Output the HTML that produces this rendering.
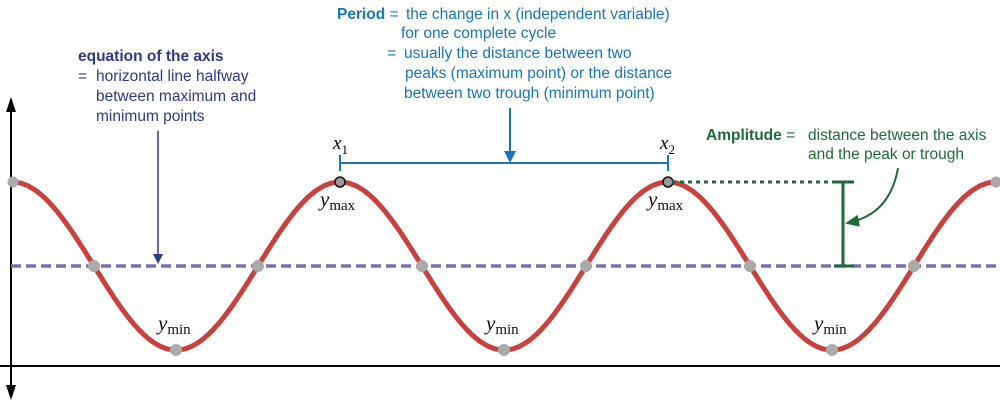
<!DOCTYPE html>
<html><head><meta charset="utf-8"><style>
html,body{margin:0;padding:0;background:#fff;width:1000px;height:401px;overflow:hidden}
svg{display:block}
.s{font-family:"Liberation Sans",sans-serif;font-size:15.5px}
.m{font-family:"Liberation Serif",serif}
</style></head><body>
<svg id="g" width="1000" height="401" viewBox="0 0 1000 401">
<defs>
<marker id="ab" markerWidth="10" markerHeight="10" refX="8" refY="5" orient="auto" markerUnits="userSpaceOnUse"><path d="M0,0 L10,5 L0,10 Z" fill="#2e3a8c"/></marker>
<marker id="al" markerWidth="12" markerHeight="12" refX="10" refY="6" orient="auto" markerUnits="userSpaceOnUse"><path d="M0,0 L12,6 L0,12 Z" fill="#1a75bc"/></marker>
<marker id="ag" markerWidth="14" markerHeight="12" refX="12" refY="6" orient="auto" markerUnits="userSpaceOnUse"><path d="M0,0 L14,6 L0,12 Z" fill="#1e6b3a"/></marker>
</defs>
<line x1="11" y1="104" x2="11" y2="392" stroke="#000" stroke-width="2"/>
<path d="M11,97 L6,112 L16,112 Z M11,400 L6,385 L16,385 Z" fill="#000"/>
<line x1="0" y1="366" x2="1000" y2="366" stroke="#000" stroke-width="2"/>
<line x1="11" y1="266" x2="1000" y2="266" stroke="#7b6fb0" stroke-width="3.5" stroke-dasharray="10,5"/>
<path id="w" fill="none" stroke="#c9413f" stroke-width="5"/>
<g id="dots" fill="#aaa"></g>
<circle cx="340" cy="182" r="5" fill="#999" stroke="#111" stroke-width="1.5"/>
<circle cx="668" cy="182" r="5" fill="#999" stroke="#111" stroke-width="1.5"/>
<line x1="340" y1="163" x2="668" y2="163" stroke="#1a75bc" stroke-width="2"/>
<line x1="340" y1="155" x2="340" y2="171" stroke="#1a75bc" stroke-width="2"/>
<line x1="668" y1="155" x2="668" y2="171" stroke="#1a75bc" stroke-width="2"/>
<line x1="510" y1="108" x2="510" y2="161" stroke="#1a75bc" stroke-width="2" marker-end="url(#al)"/>
<text class="m" font-style="italic" font-size="19" x="333" y="149">x<tspan font-style="normal" font-size="13" dy="5">1</tspan></text>
<text class="m" font-style="italic" font-size="19" x="660" y="149">x<tspan font-style="normal" font-size="13" dy="5">2</tspan></text>
<g class="s" fill="#1a75bc">
<text x="337" y="19"><tspan font-weight="bold">Period</tspan> =</text>
<text x="406" y="19">the change in x (independent variable)</text>
<text x="401" y="38">for one complete cycle</text>
<text x="387" y="58">=</text>
<text x="404" y="58">usually the distance between two</text>
<text x="405" y="78">peaks (maximum point) or the distance</text>
<text x="404" y="98">between two trough (minimum point)</text>
</g>
<g class="s" fill="#2e3a8c">
<text x="78" y="61" font-weight="bold">equation of the axis</text>
<text x="78" y="81">=</text>
<text x="96" y="81">horizontal line halfway</text>
<text x="96" y="101">between maximum and</text>
<text x="96" y="121">minimum points</text>
</g>
<line x1="158" y1="131" x2="158" y2="262" stroke="#2e3a8c" stroke-width="1.5" marker-end="url(#ab)"/>
<line x1="672" y1="182" x2="835" y2="182" stroke="#1e6b3a" stroke-width="3" stroke-dasharray="4,4"/>
<line x1="843" y1="182" x2="843" y2="266" stroke="#1e6b3a" stroke-width="3"/>
<line x1="834" y1="182" x2="854" y2="182" stroke="#1e6b3a" stroke-width="3"/>
<line x1="834" y1="266" x2="854" y2="266" stroke="#1e6b3a" stroke-width="3"/>
<path d="M898,168 Q890,215 847,223" fill="none" stroke="#1e6b3a" stroke-width="2" marker-end="url(#ag)"/>
<g class="s" fill="#1e6b3a">
<text x="706" y="140"><tspan font-weight="bold">Amplitude</tspan> =</text>
<text x="808" y="140">distance between the axis</text>
<text x="808" y="159">and the peak or trough</text>
</g>
<g class="m" fill="#111">
<text x="320" y="206" font-size="21" font-style="italic">y<tspan font-style="normal" font-size="15" dy="4">max</tspan></text>
<text x="648" y="206" font-size="21" font-style="italic">y<tspan font-style="normal" font-size="15" dy="4">max</tspan></text>
<text x="158" y="330" font-size="21" font-style="italic">y<tspan font-style="normal" font-size="15" dy="4">min</tspan></text>
<text x="486" y="330" font-size="21" font-style="italic">y<tspan font-style="normal" font-size="15" dy="4">min</tspan></text>
<text x="814" y="330" font-size="21" font-style="italic">y<tspan font-style="normal" font-size="15" dy="4">min</tspan></text>
</g>
</svg>
<script>
var d="";for(var x=13;x<=1000;x+=2){var y=266-84*Math.cos(2*Math.PI*(x-12)/328);d+=(x==13?"M":"L")+x+","+y.toFixed(1);}
document.getElementById("w").setAttribute("d",d);
var g=document.getElementById("dots"),h="";
[13,996].forEach(function(x){h+='<circle cx="'+x+'" cy="182" r="5.5"/>';});
[94,258,422,586,750,914].forEach(function(x){h+='<circle cx="'+x+'" cy="266" r="6"/>';});
[176,504,832].forEach(function(x){h+='<circle cx="'+x+'" cy="350" r="6"/>';});
g.innerHTML=h;
</script>
</body></html>
